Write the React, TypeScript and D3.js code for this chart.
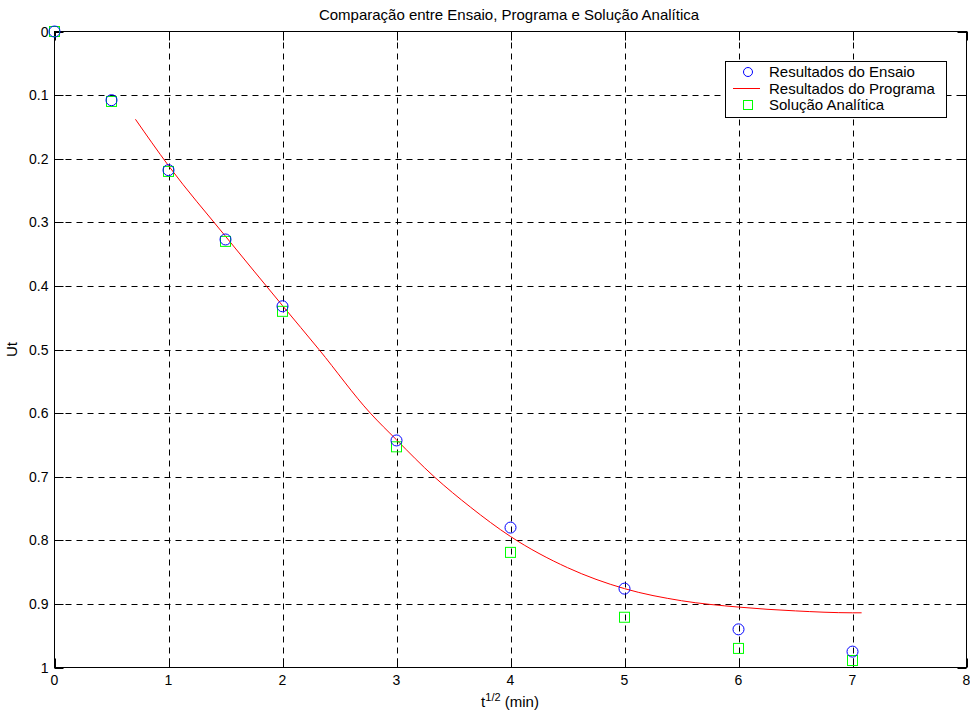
import React from "react";
import * as d3 from "d3";

const xTicks = [0, 1, 2, 3, 4, 5, 6, 7, 8];
const yTicks = [0, 0.1, 0.2, 0.3, 0.4, 0.5, 0.6, 0.7, 0.8, 0.9, 1];
const yTickLabels = ["0", "0.1", "0.2", "0.3", "0.4", "0.5", "0.6", "0.7", "0.8", "0.9", "1"];

const pointX = [0, 0.5, 1, 1.5, 2, 3, 4, 5, 6, 7];
const ensaio = [0, 0.108, 0.218, 0.327, 0.432, 0.643, 0.78, 0.876, 0.94, 0.975];
const analitica = [0, 0.11, 0.22, 0.33, 0.44, 0.653, 0.819, 0.921, 0.97, 0.989];

const progX = [0.71, 1.0, 1.5, 2.0, 2.32, 2.77, 3.0, 3.33, 3.65, 4.0, 4.5, 5.0, 5.5, 6.0, 6.5, 7.0, 7.08];
const progY = [0.138, 0.211, 0.322, 0.431, 0.5, 0.6, 0.642, 0.7, 0.748, 0.794, 0.843, 0.876, 0.895, 0.905, 0.911, 0.914, 0.914];

const title = "Comparação entre Ensaio, Programa e Solução Analítica";
const legendLabels = ["Resultados do Ensaio", "Resultados do Programa", "Solução Analítica"];

export default function App() {
  const W = 970, H = 716;
  const L = 54.5, R = 966.5, T = 31.5, B = 667.5;
  const x = d3.scaleLinear().domain([0, 8]).range([L, R]);
  const y = d3.scaleLinear().domain([0, 1]).range([T, B]);
  const line = d3.line<number>().x((_, i) => x(progX[i])).y((d) => y(d)).curve(d3.curveMonotoneX);
  const font = "'Liberation Sans', Arial, sans-serif";
  const tick = 9;
  const dash = "6,5";

  const lx = 725.5, ly = 61.5, lw = 221, lh = 56;
  const rowY = [72, 88.5, 105];

  return (
    <div style={{ position: "absolute", left: 0, top: 0 }}>
      <svg width={W} height={H} style={{ display: "block", background: "#fff" }} fontFamily={font}>
        <rect x={0} y={0} width={W} height={H} fill="#fff" />
        {/* grid */}
        {xTicks.slice(1, -1).map((t) => (
          <line key={"gx" + t} x1={Math.round(x(t)) + 0.5} x2={Math.round(x(t)) + 0.5} y1={T} y2={B} stroke="#000" strokeWidth={1} strokeDasharray={dash} />
        ))}
        {yTicks.slice(1, -1).map((t) => (
          <line key={"gy" + t} x1={L} x2={R} y1={Math.round(y(t)) + 0.5} y2={Math.round(y(t)) + 0.5} stroke="#000" strokeWidth={1} strokeDasharray={dash} />
        ))}
        {/* ticks */}
        {xTicks.map((t) => (
          <g key={"tx" + t}>
            <line x1={Math.round(x(t)) + 0.5} x2={Math.round(x(t)) + 0.5} y1={B} y2={B - tick} stroke="#000" />
            <line x1={Math.round(x(t)) + 0.5} x2={Math.round(x(t)) + 0.5} y1={T} y2={T + tick} stroke="#000" />
            <text x={x(t)} y={B + 17} textAnchor="middle" fontSize={14} fill="#000">{t}</text>
          </g>
        ))}
        {yTicks.map((t, i) => (
          <g key={"ty" + t}>
            <line x1={L} x2={L + tick} y1={Math.round(y(t)) + 0.5} y2={Math.round(y(t)) + 0.5} stroke="#000" />
            <line x1={R} x2={R - tick} y1={Math.round(y(t)) + 0.5} y2={Math.round(y(t)) + 0.5} stroke="#000" />
            <text x={L - 6} y={y(t) + 5} textAnchor="end" fontSize={14} fill="#000">{yTickLabels[i]}</text>
          </g>
        ))}
        {/* box */}
        <rect x={L} y={T} width={R - L} height={B - T} fill="none" stroke="#000" strokeWidth={1} />
        {/* program line */}
        <path d={line(progY) || ""} fill="none" stroke="#ff0000" strokeWidth={1} />
        {/* markers */}
        {pointX.map((px, i) => (
          <rect key={"s" + i} x={x(px) - 5} y={y(analitica[i]) - 5} width={10} height={10} fill="none" stroke="#00ff00" strokeWidth={1} />
        ))}
        {pointX.map((px, i) => (
          <circle key={"c" + i} cx={x(px)} cy={y(ensaio[i])} r={5.5} fill="none" stroke="#0000ff" strokeWidth={1} />
        ))}
        {/* legend */}
        <rect x={lx} y={ly} width={lw} height={lh} fill="#fff" stroke="#000" strokeWidth={1} />
        <circle cx={748} cy={rowY[0]} r={4.5} fill="none" stroke="#0000ff" />
        <line x1={733} x2={760} y1={rowY[1]} y2={rowY[1]} stroke="#ff0000" />
        <rect x={743.5} y={rowY[2] - 4.5} width={9} height={9} fill="none" stroke="#00ff00" />
        {legendLabels.map((lab, i) => (
          <text key={lab} x={769} y={rowY[i] + 5} fontSize={15} fill="#000">{lab}</text>
        ))}
        {/* title & labels */}
        <text x={509} y={20} textAnchor="middle" fontSize={15} fill="#000">{title}</text>
        <text x={510} y={707} textAnchor="middle" fontSize={15} fill="#000">
          t<tspan dy={-6} fontSize={11}>1/2</tspan><tspan dy={6} fontSize={15}> (min)</tspan>
        </text>
        <text transform={`translate(17,${(T + B) / 2}) rotate(-90)`} textAnchor="middle" fontSize={15} fill="#000">Ut</text>
      </svg>
    </div>
  );
}
